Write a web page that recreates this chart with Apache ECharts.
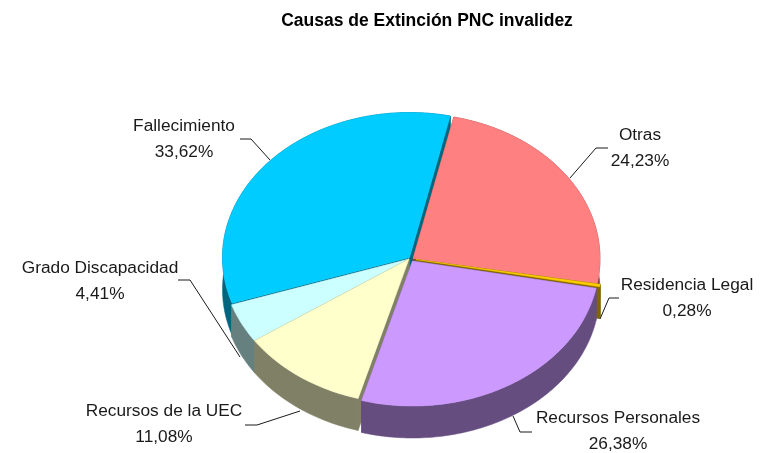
<!DOCTYPE html>
<html>
<head>
<meta charset="utf-8">
<script src="https://cdn.jsdelivr.net/npm/echarts@6/dist/echarts.min.js"></script>
<style>html,body{margin:0;padding:0;background:#fff}#c{width:760px;height:453px}</style>
</head>
<body>
<div id="c"></div>
<script>
// Data, clockwise from the first slice
const categories = ['Otras', 'Residencia Legal', 'Recursos Personales', 'Recursos de la UEC', 'Grado Discapacidad', 'Fallecimiento'];
const percentages = [24.23, 0.28, 26.38, 11.08, 4.41, 33.62];
const chartTitle = 'Causas de Extinción PNC invalidez';

// Styling and layout
const topColors = ['#FF8080', '#FFCC00', '#CC99FF', '#FFFFCC', '#CCFFFF', '#00CCFF'];
const sideColors = ['#804040', '#806600', '#664D80', '#808066', '#668080', '#006680'];
const paintOrder = [1, 2, 5, 4, 3, 0];
const sliceCenters = [[413, 258.5], [416, 259.5], [412.5, 261], [409, 259], [409, 259], [409.5, 257.5]];
const RX = 187, RY = 145, DEPTH = 32, START_DEG = 12.6;
const labelSpots = [
  {x: 640, y: 148, line: [[608, 148], [596, 148], [570, 178]]},
  {x: 687, y: 298, line: [[619, 298], [609, 298], [600, 319]]},
  {x: 618, y: 431, line: [[532, 432], [520, 432], [513, 416]]},
  {x: 164, y: 424, line: [[245, 425], [257, 425], [300, 411]]},
  {x: 100, y: 281, line: [[178, 280], [190, 280], [240, 357]]},
  {x: 184, y: 139, line: [[240, 139], [251, 139], [270, 160]]}
];

const total = percentages.reduce((a, b) => a + b, 0);
const startAngles = [];
percentages.reduce((acc, v, i) => { startAngles[i] = acc; return acc + v / total * 360; }, START_DEG);

function rim(c, deg, dy) {
  const t = deg * Math.PI / 180;
  return [c[0] + RX * Math.sin(t), c[1] - RY * Math.cos(t) + (dy || 0)];
}
function arc(c, a, b, dy) {
  const n = Math.max(2, Math.ceil(Math.abs(b - a)));
  const pts = [];
  for (let i = 0; i <= n; i++) pts.push(rim(c, a + (b - a) * i / n, dy));
  return pts;
}
function poly(points, fill, z2) {
  return {type: 'polygon', z2: z2, shape: {points: points}, style: {fill: fill, stroke: fill, lineWidth: 0.5}};
}

function renderSlice(params, api) {
  const i = params.dataIndex;
  const value = api.value(0);
  const a = startAngles[i], b = a + value / total * 360;
  const c = sliceCenters[i];
  const rank = paintOrder[i] * 10 + 10;
  const side = sideColors[i];
  const apex = [c[0], c[1]], apexLow = [c[0], c[1] + DEPTH];
  const wallTop = arc(c, a, b, 0);
  const wallLow = arc(c, a, b, DEPTH).reverse();
  const spot = labelSpots[i];
  return {
    type: 'group',
    children: [
      poly([apex, rim(c, a), rim(c, a, DEPTH), apexLow], side, rank),
      poly([apex, rim(c, b), rim(c, b, DEPTH), apexLow], side, rank),
      poly(wallTop.concat(wallLow), side, rank + 1),
      poly([apex].concat(wallTop), topColors[i], rank + 2),
      {type: 'polyline', z2: 200, shape: {points: spot.line}, style: {fill: 'none', stroke: '#1a1a1a', lineWidth: 1}},
      {type: 'text', z2: 201, x: spot.x, y: spot.y, style: {
        text: categories[i] + '\n' + value.toFixed(2).replace('.', ',') + '%',
        fill: '#1a1a1a', font: '17.3px "Liberation Sans", Arial, sans-serif',
        align: 'center', verticalAlign: 'middle', lineHeight: 26
      }}
    ]
  };
}

const chart = echarts.init(document.getElementById('c'), null, {renderer: 'canvas'});
chart.setOption({
  backgroundColor: '#fff',
  animation: false,
  title: {
    text: chartTitle, left: 422, top: 7, textAlign: 'center',
    textStyle: {fontFamily: '"Liberation Sans", Arial, sans-serif', fontWeight: 'bold', fontSize: 17.5, color: '#000'}
  },
  series: [{
    type: 'custom',
    coordinateSystem: 'none',
    renderItem: renderSlice,
    data: percentages.map((v, i) => ({name: categories[i], value: [v]}))
  }]
});
</script>
</body>
</html>
